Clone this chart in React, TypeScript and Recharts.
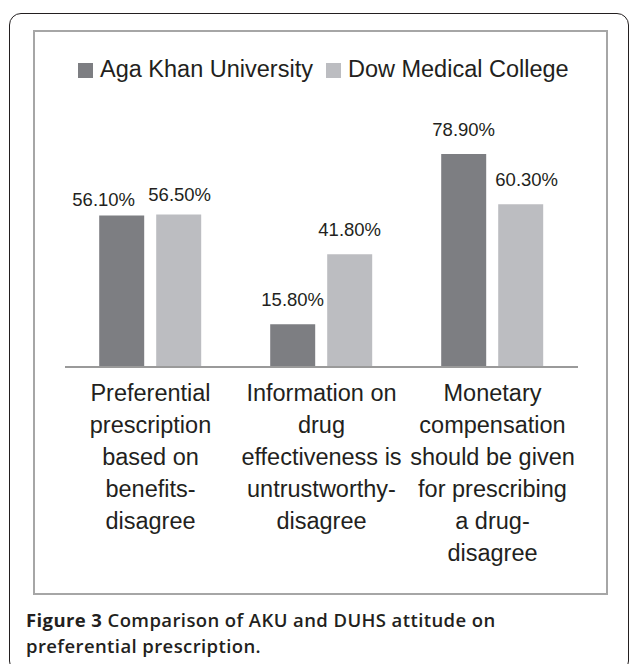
import { BarChart, Bar, XAxis, YAxis, LabelList } from "recharts";

const categories = [
  "Preferential\nprescription\nbased on\nbenefits-\ndisagree",
  "Information on\ndrug\neffectiveness is\nuntrustworthy-\ndisagree",
  "Monetary\ncompensation\nshould be given\nfor prescribing\na drug-\ndisagree",
];
const akuValues = [56.1, 15.8, 78.9];
const dowValues = [56.5, 41.8, 60.3];
const seriesNames = ["Aga Khan University", "Dow Medical College"];
const seriesColors = ["#7d7e82", "#bcbdc1"];

const data = categories.map((name, i) => ({ name, aku: akuValues[i], dow: dowValues[i] }));

const FONT = "'Liberation Sans', Arial, sans-serif";
const INK = "#231f20";

// a few labels were hand-moved in the original figure
const akuNudge: Record<number, [number, number]> = { 0: [-18, 8] };
const dowNudge: Record<number, [number, number]> = { 0: [1, 5], 2: [6, 0] };

const makeLabel = (nudge: Record<number, [number, number]>) => (props: any) => {
  const { x, y, width, value, index } = props;
  const [dx, dy] = nudge[index] || [0, 0];
  return (
    <text
      x={Number(x) + Number(width) / 2 + dx}
      y={Number(y) - 18 + dy}
      textAnchor="middle"
      fontSize={18.5}
      fontFamily={FONT}
      fill={INK}
    >
      {Number(value).toFixed(2)}%
    </text>
  );
};

const CategoryTick = (props: any) => {
  const { x, y, payload } = props;
  const lines = String(payload.value).split("\n");
  return (
    <text x={x} y={y} textAnchor="middle" fontSize={23.5} fontFamily={FONT} fill={INK}>
      {lines.map((line, i) => (
        <tspan key={i} x={x} dy={i === 0 ? 34 : 32}>
          {line}
        </tspan>
      ))}
    </text>
  );
};

export default function App() {
  return (
    <div
      style={{
        position: "absolute",
        left: 0,
        top: 0,
        width: 629,
        height: 664,
        background: "#fff",
        overflow: "hidden",
      }}
    >
      {/* outer figure frame */}
      <div
        style={{
          position: "absolute",
          left: 8.5,
          top: 13.3,
          width: 620,
          height: 660,
          border: `1.5px solid ${INK}`,
          borderRadius: 12,
          boxSizing: "border-box",
        }}
      />
      {/* chart area frame */}
      <div
        style={{
          position: "absolute",
          left: 33,
          top: 30,
          width: 575,
          height: 565,
          border: "2px solid #a6a6a6",
          boxSizing: "border-box",
        }}
      />

      {/* legend */}
      <div
        style={{
          position: "absolute",
          left: 78,
          top: 58,
          display: "flex",
          alignItems: "flex-start",
          fontFamily: FONT,
          fontSize: 23.5,
          lineHeight: 1,
          color: INK,
          whiteSpace: "nowrap",
        }}
      >
        {seriesNames.map((name, i) => (
          <div key={name} style={{ display: "flex", alignItems: "flex-start", marginRight: 13 }}>
            <div
              style={{
                width: 15,
                height: 15,
                marginTop: 5,
                marginRight: 7,
                background: seriesColors[i],
              }}
            />
            <span>{name}</span>
          </div>
        ))}
      </div>

      <div style={{ position: "absolute", left: 0, top: 0 }}>
        <BarChart
          width={629}
          height={600}
          data={data}
          margin={{ top: 97, right: 51, left: 65, bottom: 3 }}
          barCategoryGap="20%"
          barGap={12}
        >
          <XAxis
            dataKey="name"
            height={230}
            axisLine={{ stroke: "#9a9a9a", strokeWidth: 2 }}
            tickLine={false}
            tickSize={0}
            tickMargin={0}
            tick={<CategoryTick />}
            interval={0}
          />
          <YAxis hide domain={[0, 100]} />
          <Bar dataKey="aku" name={seriesNames[0]} fill={seriesColors[0]} isAnimationActive={false}>
            <LabelList dataKey="aku" content={makeLabel(akuNudge)} />
          </Bar>
          <Bar dataKey="dow" name={seriesNames[1]} fill={seriesColors[1]} isAnimationActive={false}>
            <LabelList dataKey="dow" content={makeLabel(dowNudge)} />
          </Bar>
        </BarChart>
      </div>

      {/* caption */}
      <div
        style={{
          position: "absolute",
          left: 26,
          top: 607,
          fontFamily: "'Open Sans', sans-serif",
          fontSize: 18.5,
          letterSpacing: 0.4,
          lineHeight: "26px",
          fontWeight: 600,
          color: INK,
          whiteSpace: "nowrap",
        }}
      >
        <span style={{ fontWeight: 700 }}>Figure 3</span> Comparison of AKU and DUHS attitude on
        <br />
        preferential prescription.
      </div>
    </div>
  );
}
